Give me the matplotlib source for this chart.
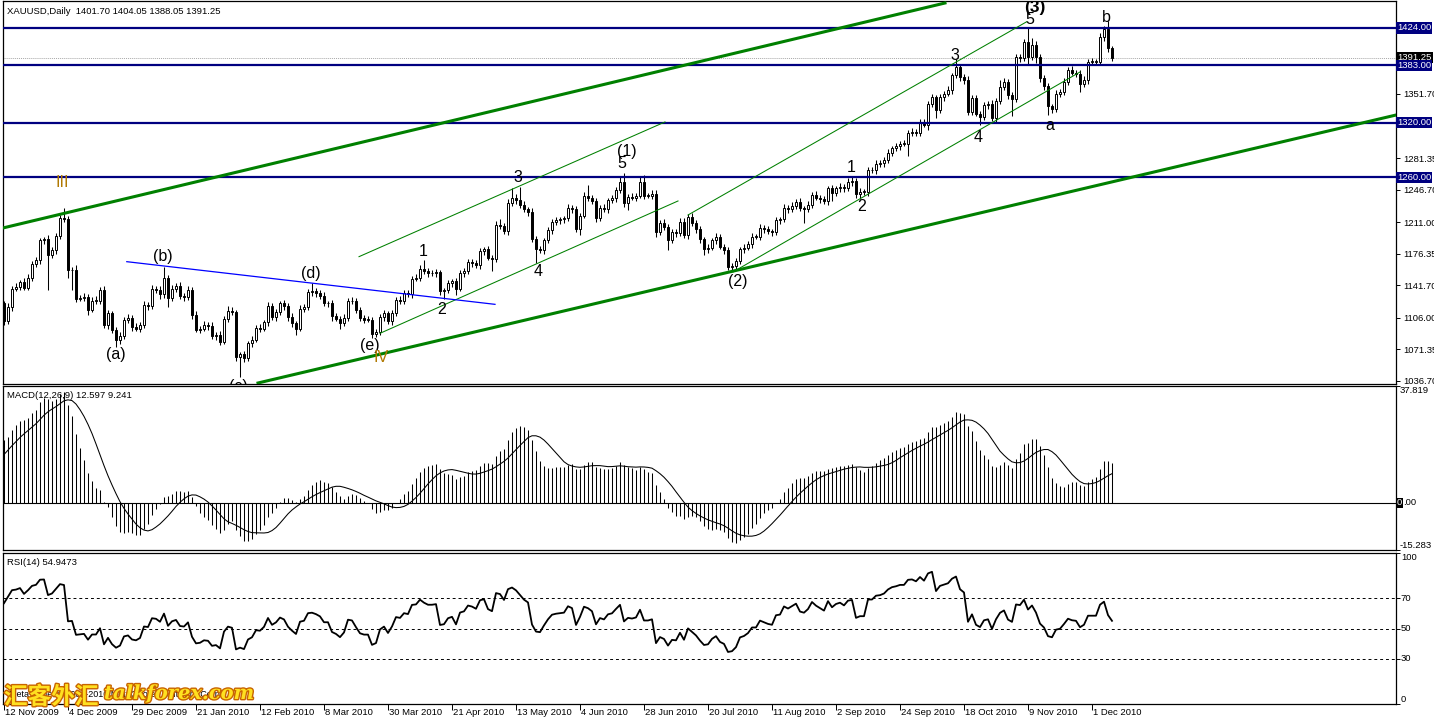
import numpy as np
import pandas as pd
import matplotlib
matplotlib.use("Agg")
import matplotlib.pyplot as plt
import matplotlib.patheffects as pe

plt.rcParams['font.family'] = ['Liberation Sans', 'DejaVu Sans']

# daily closes, 12 Nov 2009 .. 8 Dec 2010
closes = [
    1102, 1118, 1138, 1140, 1145, 1139, 1150, 1165, 1169, 1191,
    1192, 1175, 1180, 1196, 1215, 1214, 1158, 1159, 1127, 1128,
    1129, 1115, 1125, 1125, 1137, 1098, 1111, 1093, 1082, 1086,
    1104, 1106, 1096, 1094, 1098, 1120, 1119, 1138, 1137, 1132,
    1150, 1128, 1138, 1141, 1130, 1129, 1137, 1109, 1093, 1094,
    1098, 1097, 1086, 1087, 1080, 1105, 1114, 1112, 1063, 1066,
    1062, 1078, 1082, 1095, 1094, 1101, 1119, 1107, 1112, 1122,
    1119, 1107, 1100, 1094, 1116, 1118, 1134, 1135, 1133, 1130,
    1122, 1122, 1108, 1105, 1100, 1106, 1125, 1124, 1115, 1106,
    1104, 1104, 1088, 1090, 1107, 1111, 1102, 1111, 1126, 1125,
    1133, 1132, 1149, 1150, 1160, 1157, 1155, 1155, 1156, 1135,
    1136, 1144, 1146, 1138, 1155, 1157, 1167, 1166, 1164, 1179,
    1181, 1172, 1170, 1208, 1207, 1201, 1232, 1238, 1235, 1230,
    1225, 1222, 1193, 1181, 1180, 1191, 1202, 1211, 1213, 1214,
    1215, 1227, 1225, 1204, 1218, 1240, 1238, 1234, 1215, 1227,
    1225, 1235, 1237, 1246, 1255, 1232, 1239, 1238, 1240, 1255,
    1240, 1240, 1242, 1200, 1210, 1206, 1191, 1200, 1199, 1211,
    1197, 1217, 1210, 1203, 1192, 1182, 1183, 1191, 1195, 1184,
    1180, 1162, 1163, 1168, 1181, 1183, 1187, 1195, 1195, 1205,
    1203, 1201, 1200, 1213, 1214, 1227, 1225, 1229, 1233, 1226,
    1225, 1230, 1241, 1238, 1236, 1234, 1248, 1243, 1248, 1250,
    1248, 1255, 1256, 1242, 1244, 1244, 1268, 1268, 1275, 1276,
    1279, 1287, 1292, 1294, 1297, 1297, 1309, 1310, 1309, 1320,
    1318, 1341, 1348, 1334, 1348, 1352, 1356, 1372, 1381, 1370,
    1367, 1332, 1347, 1330, 1326, 1339, 1341, 1325, 1344, 1359,
    1365, 1350, 1346, 1392, 1391, 1409, 1392, 1405, 1392, 1369,
    1360, 1338, 1335, 1352, 1354, 1365, 1378, 1375, 1374, 1362,
    1367, 1387, 1387, 1387, 1414, 1423, 1401.70, 1391.25,
]
first_open = 1122

# shadow lengths above / below the candle body
upper_wick = [
    3, 4, 3, 4, 3, 5, 4, 3, 4, 3,   3, 5, 4, 3, 4, 11, 4, 3, 5, 3,
    4, 3, 4, 5, 3, 4, 4, 3, 3, 4,   3, 4, 3, 4, 3, 4, 3, 4, 3, 4,
    12, 3, 4, 3, 4, 3, 4, 3, 4, 3,  4, 3, 4, 3, 4, 3, 5, 4, 3, 3,
    4, 3, 4, 3, 4, 3, 4, 3, 4, 3,   4, 3, 4, 3, 4, 3, 4, 9, 4, 3,
    4, 3, 4, 3, 3, 4, 3, 4, 4, 3,   3, 4, 3, 4, 3, 4, 3, 4, 3, 4,
    3, 4, 3, 4, 4, 9, 4, 3, 4, 3,   3, 4, 3, 4, 3, 4, 3, 4, 3, 4,
    3, 4, 3, 4, 6, 3, 4, 10, 4, 15, 4, 3, 4, 3, 4, 3, 4, 3, 4, 3,
    3, 4, 3, 4, 3, 4, 12, 3, 4, 3,  4, 3, 4, 3, 5, 10, 3, 4, 3, 6,
    8, 3, 4, 4, 3, 4, 3, 4, 3, 4,   4, 3, 4, 3, 4, 3, 4, 3, 4, 3,
    3, 4, 3, 4, 3, 4, 3, 4, 3, 4,   3, 4, 3, 4, 3, 4, 3, 4, 3, 4,
    3, 4, 3, 4, 3, 4, 3, 4, 3, 4,   3, 4, 4, 3, 4, 3, 4, 3, 4, 3,
    3, 4, 3, 4, 3, 4, 3, 4, 3, 4,   4, 3, 4, 3, 4, 3, 4, 3, 9, 4,
    3, 4, 3, 4, 3, 4, 3, 4, 3, 8,   4, 3, 4, 3, 4, 3, 15, 8, 5, 3,
    3, 4, 3, 4, 3, 4, 3, 4, 3, 4,   4, 3, 4, 3, 4, 3, 9, 2.35,
]
lower_wick = [
    4, 3, 4, 3, 4, 3, 3, 4, 3, 4,   4, 39, 3, 4, 3, 3, 8, 22, 4, 3,
    4, 6, 3, 4, 4, 3, 4, 4, 8, 5,   3, 4, 4, 3, 4, 3, 4, 3, 4, 5,
    4, 10, 3, 4, 3, 4, 3, 4, 3, 4,  3, 4, 3, 4, 4, 3, 4, 3, 4, 22,
    4, 3, 4, 3, 4, 3, 4, 3, 4, 3,   4, 5, 4, 7, 3, 4, 3, 4, 4, 3,
    3, 4, 5, 3, 6, 3, 4, 3, 4, 3,   4, 3, 4, 3, 3, 4, 3, 4, 3, 4,
    4, 3, 4, 3, 4, 3, 4, 3, 4, 4,   8, 3, 4, 7, 3, 4, 3, 4, 3, 4,
    4, 3, 13, 3, 4, 3, 4, 3, 4, 3,  3, 4, 4, 15, 3, 4, 3, 4, 3, 4,
    4, 3, 4, 4, 7, 3, 4, 3, 4, 3,   3, 4, 3, 4, 3, 4, 8, 3, 4, 3,
    4, 3, 4, 5, 3, 4, 11, 3, 4, 3,  3, 4, 3, 4, 4, 7, 5, 3, 4, 3,
    4, 4, 5, 4, 3, 4, 3, 4, 3, 4,   4, 3, 4, 3, 4, 3, 4, 3, 4, 3,
    15, 3, 4, 3, 4, 3, 4, 9, 3, 4,  4, 3, 4, 4, 6, 3, 4, 3, 4, 3,
    4, 3, 4, 3, 4, 3, 14, 3, 4, 3,  3, 6, 4, 9, 3, 4, 3, 4, 3, 4,
    4, 3, 4, 3, 8, 3, 4, 3, 4, 3,   3, 4, 19, 3, 4, 3, 8, 3, 6, 4,
    4, 9, 4, 3, 4, 3, 4, 3, 4, 8,   3, 4, 3, 4, 3, 4, 4, 3.2,
]

# approximate closes before the visible window, only used to warm up MACD / RSI
warmup_closes = [
    1000, 997, 1006, 1007, 1002, 1006, 1019, 1013, 1016, 1005,
    1015, 1014, 1008, 992, 990, 991, 1001, 1002, 1003, 1000,
    1004, 1017, 1040, 1046, 1051, 1057, 1064, 1058, 1051, 1062,
    1060, 1065, 1055, 1061, 1035, 1038, 1034, 1040, 1055, 1085,
    1090, 1091, 1096, 1102, 1103, 1115,
]

level_lines = [1424.0, 1383.0, 1320.0, 1260.0]
last_price = 1391.25
price_ticks = [1036.70, 1071.35, 1106.00, 1141.70, 1176.35, 1211.00, 1246.70, 1281.35, 1351.70]

date_labels = ["12 Nov 2009", "4 Dec 2009", "29 Dec 2009", "21 Jan 2010", "12 Feb 2010",
               "8 Mar 2010", "30 Mar 2010", "21 Apr 2010", "13 May 2010", "4 Jun 2010",
               "28 Jun 2010", "20 Jul 2010", "11 Aug 2010", "2 Sep 2010", "24 Sep 2010",
               "18 Oct 2010", "9 Nov 2010", "1 Dec 2010"]
date_bars = [0, 16, 32, 48, 64, 80, 96, 112, 128, 144, 160, 176, 192, 208, 224, 240, 256, 272]

# trend lines as (bar, price) end points
thick_lines = [((-0.25, 1204.6), (235.25, 1451.4)),
               ((63.5, 1034.5), (348.0, 1328.5))]
thin_lines = [((88.75, 1173.1), (165.25, 1320.9)),
              ((94.0, 1089.0), (168.5, 1234.2)),
              ((171.0, 1218.8), (255.7, 1430.9)),
              ((182.25, 1156.3), (269.0, 1375.7))]
blue_line = ((30.7, 1167.6), (122.75, 1120.8))

# wave counts: text, bar, price, colour
wave_labels = [
    ("III", 14.5, 1254.0, '#B07800'),
    ("(a)", 28.0, 1066.3, 'black'),
    ("(b)", 39.75, 1173.8, 'black'),
    ("(c)", 58.5, 1031.0, 'black'),
    ("(d)", 76.75, 1155.0, 'black'),
    ("(e)", 91.5, 1076.0, 'black'),
    ("IV", 94.25, 1062.0, '#B07800'),
    ("1", 104.75, 1179.3, 'black'),
    ("2", 109.5, 1114.6, 'black'),
    ("3", 128.5, 1260.5, 'black'),
    ("4", 133.5, 1156.3, 'black'),
    ("5", 154.5, 1274.8, 'black'),
    ("(1)", 155.75, 1289.0, 'black'),
    ("(2)", 183.5, 1146.4, 'black'),
    ("1", 211.75, 1270.4, 'black'),
    ("2", 214.5, 1227.6, 'black'),
    ("3", 237.75, 1393.3, 'black'),
    ("4", 243.5, 1303.3, 'black'),
    ("5", 256.5, 1432.8, 'black'),
    ("(3)", 257.75, 1446.0, 'black'),
    ("a", 261.5, 1316.5, 'black'),
    ("b", 275.5, 1435.0, 'black'),
]

W, H = 1434, 721
fig = plt.figure(figsize=(W / 100, H / 100), dpi=100)
fig.patch.set_facecolor('white')


def axes_px(x0, y0, x1, y1):
    return fig.add_axes([x0 / W, 1 - y1 / H, (x1 - x0) / W, (y1 - y0) / H])


ax_p = axes_px(3, 1, 1396, 384)
ax_m = axes_px(3, 386, 1396, 550)
ax_r = axes_px(3, 553, 1396, 704)

for ax in (ax_p, ax_m, ax_r):
    ax.set_xlim(-0.25, 348)
    for s in ax.spines.values():
        s.set_linewidth(0.9)
        s.set_color('black')
    ax.tick_params(axis='x', bottom=False, labelbottom=False)
    ax.tick_params(axis='y', left=False, labelleft=False, right=True, labelright=True,
                   length=3, width=0.7, pad=2, labelsize=6.8)

# ---- price panel ----
n = len(closes)
x = np.arange(n)
c = np.array(closes, dtype=float)
o = np.array([first_open] + closes[:-1], dtype=float)
top = np.maximum(o, c)
bot = np.minimum(o, c)
highs = top + np.array(upper_wick)
lows = bot - np.array(lower_wick)

ax_p.set_ylim(1033.4, 1453.6)
ax_p.vlines(x, lows, highs, color='black', lw=0.75, zorder=3)
ax_p.bar(x, np.maximum(top - bot, 0.6), bottom=bot, width=0.55,
         color=np.where(c >= o, 'white', 'black'), edgecolor='black', linewidth=0.7, zorder=4)

for v in level_lines:
    ax_p.axhline(v, color='#000080', lw=1.6, zorder=5)
ax_p.axhline(last_price, color='#A8A8A8', lw=0.7, ls=(0, (1, 1)), zorder=2)

for (x0, y0), (x1, y1) in thick_lines:
    ax_p.plot([x0, x1], [y0, y1], color='#008000', lw=2.2, zorder=6)
for (x0, y0), (x1, y1) in thin_lines:
    ax_p.plot([x0, x1], [y0, y1], color='#008000', lw=0.75, zorder=6)
ax_p.plot([blue_line[0][0], blue_line[1][0]], [blue_line[0][1], blue_line[1][1]],
          color='#0000FF', lw=0.9, zorder=6)

for txt, b, p, col in wave_labels:
    ax_p.text(b, p, txt, color=col, fontsize=12.5 if txt == "(3)" else 11.5,
              fontweight='bold' if txt == "(3)" else 'normal',
              ha='center', va='center', zorder=7, clip_on=True)

ax_p.set_yticks(price_ticks)
ax_p.set_yticklabels([f"{t:.2f}" for t in price_ticks])

ytr = ax_p.get_yaxis_transform()
ax_p.text(1.0008, last_price, "1391.25", transform=ytr, color='white', fontsize=6.8,
          va='center', ha='left', clip_on=False, zorder=8,
          bbox=dict(boxstyle='square,pad=0.12', fc='black', ec='none'))
for v in level_lines:
    ax_p.text(1.0008, v, f"{v:.2f}", transform=ytr, color='white', fontsize=6.8,
              va='center', ha='left', clip_on=False, zorder=9,
              bbox=dict(boxstyle='square,pad=0.12', fc='#000080', ec='none'))

ax_p.text(0.003, 0.985, "XAUUSD,Daily  1401.70 1404.05 1388.05 1391.25", transform=ax_p.transAxes,
          fontsize=6.8, va='top', ha='left', color='black')

# ---- indicators ----
all_c = pd.Series(warmup_closes + closes, dtype=float)
macd = all_c.ewm(span=12, adjust=False).mean() - all_c.ewm(span=26, adjust=False).mean()
signal = macd.rolling(9).mean()
diff = all_c.diff()
avg_gain = diff.clip(lower=0).ewm(alpha=1 / 14, adjust=False).mean()
avg_loss = (-diff.clip(upper=0)).ewm(alpha=1 / 14, adjust=False).mean()
rsi = 100 - 100 / (1 + avg_gain / avg_loss)
macd = macd.iloc[-n:].values
signal = signal.iloc[-n:].values
rsi = rsi.iloc[-n:].values

ax_m.set_ylim(-15.283, 37.819)
ax_m.vlines(x, 0, macd, color='black', lw=0.75)
ax_m.plot(x, signal, color='black', lw=0.75)
ax_m.axhline(0, color='black', lw=0.8)
ax_m.set_yticks([37.819, 0, -15.283])
ax_m.set_yticklabels([])
mtr = ax_m.get_yaxis_transform()
ax_m.text(1.0025, 37.819, "37.819", transform=mtr, fontsize=6.8, va='top', ha='left', clip_on=False)
ax_m.text(1.0025, -15.283, "-15.283", transform=mtr, fontsize=6.8, va='bottom', ha='left', clip_on=False)
ax_m.annotate("0", xy=(1.0008, 0), xycoords=mtr, fontsize=6.8, va='center', ha='left',
              color='white', bbox=dict(boxstyle='square,pad=0.08', fc='black', ec='none'))
ax_m.annotate(".00", xy=(1.0008, 0), xycoords=mtr, xytext=(4.0, 0), textcoords='offset points',
              fontsize=6.8, va='center', ha='left', color='black')
ax_m.text(0.003, 0.97, "MACD(12,26,9) 12.597 9.241", transform=ax_m.transAxes,
          fontsize=6.8, va='top', ha='left')

ax_r.set_ylim(0, 100)
ax_r.plot(x, rsi, color='black', lw=1.3)
for lvl in (70, 50, 30):
    ax_r.axhline(lvl, color='black', lw=0.7, ls=(0, (3, 3)))
ax_r.set_yticks([100, 70, 50, 30, 0])
ax_r.set_yticklabels([])
rtr = ax_r.get_yaxis_transform()
for lvl, va in ((100, 'top'), (70, 'center'), (50, 'center'), (30, 'center'), (0, 'bottom')):
    ax_r.text(1.0035, lvl, str(lvl), transform=rtr, fontsize=6.8, va=va, ha='left', clip_on=False)
ax_r.text(0.003, 0.97, "RSI(14) 54.9473", transform=ax_r.transAxes,
          fontsize=6.8, va='top', ha='left')
ax_r.text(0.004, 0.03, "MetaTrader ? 2001-2010 MetaQuotes Software Corp.", transform=ax_r.transAxes,
          fontsize=6.5, va='bottom', ha='left')

ax_r.set_xticks(date_bars)
ax_r.tick_params(axis='x', bottom=True, labelbottom=False, length=4, width=0.7, direction='out')
for b, lab in zip(date_bars, date_labels):
    ax_r.annotate(lab, xy=(b - 0.25, 0), xycoords=('data', 'axes fraction'),
                  xytext=(1.5, -3), textcoords='offset points', fontsize=6.8,
                  ha='left', va='top', annotation_clip=False)

# site watermark over the bottom-left corner
wm = [pe.withStroke(linewidth=2.0, foreground='#C86400')]
fig.text(4 / W, 1 - 697 / H, "汇客外汇", fontsize=17, color='#FFE020', fontweight='bold',
         family=['Noto Sans CJK SC', 'DejaVu Sans'], va='center', ha='left', path_effects=wm)
fig.text(104 / W, 1 - 694 / H, "talkforex.com", fontsize=14, color='#FFE020', fontweight='bold',
         style='italic', family=['DejaVu Serif', 'DejaVu Sans'], va='center', ha='left',
         path_effects=wm)

fig.savefig("out.png", dpi=100)
